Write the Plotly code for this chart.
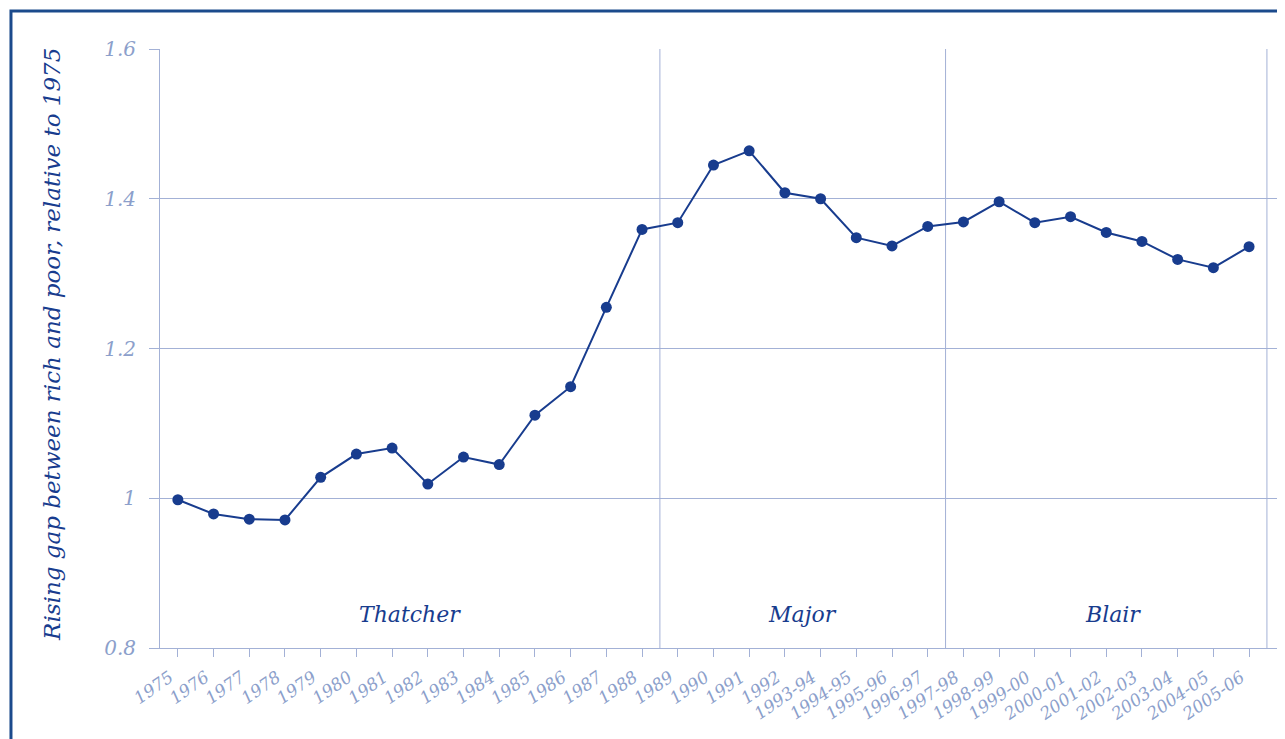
import plotly.graph_objects as go

categories = ["1975", "1976", "1977", "1978", "1979", "1980", "1981", "1982", "1983",
              "1984", "1985", "1986", "1987", "1988", "1989", "1990", "1991", "1992",
              "1993-94", "1994-95", "1995-96", "1996-97", "1997-98", "1998-99",
              "1999-00", "2000-01", "2001-02", "2002-03", "2003-04", "2004-05", "2005-06"]
values = [0.998, 0.979, 0.972, 0.971, 1.028, 1.059, 1.067, 1.019, 1.055,
          1.045, 1.111, 1.149, 1.255, 1.359, 1.368, 1.445, 1.464, 1.408,
          1.400, 1.348, 1.337, 1.363, 1.369, 1.396, 1.368, 1.376, 1.355,
          1.343, 1.319, 1.308, 1.336]
y_ticks = [0.8, 1.0, 1.2, 1.4, 1.6]
y_tick_labels = ["0.8", "1", "1.2", "1.4", "1.6"]
eras = ["Thatcher", "Major", "Blair"]
era_centers = [6.5, 17.5, 26.2]
era_bounds = [13.5, 21.5]

DARK = "#183c8e"
LIGHT = "#8c9fcb"
GRID = "#a3b1d6"
FONT = "DejaVu Serif"

fig = go.Figure()
fig.add_trace(go.Scatter(
    x=list(range(len(categories))), y=values, mode="lines+markers",
    line=dict(color=DARK, width=2), marker=dict(color=DARK, size=11),
    hoverinfo="skip", showlegend=False))

shapes = []
for b in era_bounds + [len(categories) - 0.5]:
    shapes.append(dict(type="line", xref="x", yref="y", x0=b, x1=b, y0=0.8, y1=1.6,
                       line=dict(color=GRID, width=1), layer="below"))
# outer frame
shapes.append(dict(type="rect", xref="paper", yref="paper", x0=-0.1333, x1=1.02,
                   y0=-0.2, y1=1.0634, line=dict(color="#1b4a8c", width=3)))

annotations = []
for name, c in zip(eras, era_centers):
    annotations.append(dict(x=c, y=0.845, xref="x", yref="y", text=name, showarrow=False,
                            font=dict(family=FONT, size=22, color=DARK, style="italic")))
annotations.append(dict(x=-0.110, y=0.506, xref="paper", yref="paper",
                        text="Rising gap between rich and poor, relative to 1975",
                        textangle=-90, showarrow=False,
                        font=dict(family=FONT, size=23, color=DARK, style="italic")))

fig.update_layout(
    width=1277, height=731,
    margin=dict(l=152, r=7, t=41, b=91),
    paper_bgcolor="white", plot_bgcolor="white",
    shapes=shapes, annotations=annotations,
    xaxis=dict(
        tickmode="array", tickvals=list(range(len(categories))), ticktext=categories,
        range=[-0.5, 30.81], showgrid=False, zeroline=False,
        ticks="outside", ticklen=8, tickcolor=GRID, tickwidth=1,
        showline=True, linecolor=GRID, linewidth=1,
        tickangle=-35, ticklabelshift=-8, ticklabelstandoff=4,
        tickfont=dict(family=FONT, size=17, color=LIGHT, style="italic"),
    ),
    yaxis=dict(
        range=[0.8, 1.6], tickvals=y_ticks, ticktext=y_tick_labels,
        showgrid=True, gridcolor=GRID, gridwidth=1, zeroline=False,
        ticks="outside", ticklen=10, tickcolor=GRID,
        showline=True, linecolor=GRID, linewidth=1, ticklabelstandoff=9,
        tickfont=dict(family=FONT, size=20, color=LIGHT, style="italic"),
    ),
)

fig.write_html("out.html")
